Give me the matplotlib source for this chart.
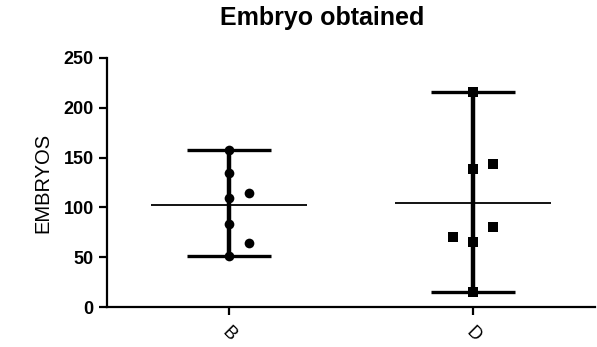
import numpy as np
import matplotlib
matplotlib.use("Agg")
import matplotlib.pyplot as plt

plt.rcParams['font.family'] = ['Liberation Sans', 'DejaVu Sans']

# ===== data =====
GROUPS = ['B', 'D']
B_VALUES = [158, 135, 109, 114, 83, 64, 51]
D_VALUES = [216, 139, 144, 80, 70, 65, 15]
# horizontal scatter of points (GraphPad style column spread)
B_SPREAD = [0, 0, 0, 1, 0, 1, 0]
D_SPREAD = [0, 0, 1, 1, -1, 0, 0]
MARKERS = ['o', 's']
Y_TICKS = [0, 50, 100, 150, 200, 250]

fig = plt.figure(figsize=(5.97, 3.47), dpi=100)
ax = fig.add_axes([107 / 597, 40 / 347, (595 - 107) / 597, (307 - 58) / 347])

step = 0.082
for i, (vals, spread, mk) in enumerate(zip([B_VALUES, D_VALUES], [B_SPREAD, D_SPREAD], MARKERS)):
    vals = np.array(vals, dtype=float)
    mean = vals.mean()
    lo, hi = vals.min(), vals.max()
    # range bar with caps
    ax.errorbar([i], [mean], yerr=[[mean - lo], [hi - mean]], fmt='none',
                ecolor='black', elinewidth=3.2, capsize=30, capthick=2.4, zorder=2)
    # mean line
    ax.hlines(mean, i - 0.32, i + 0.32, colors='black', lw=1.3, zorder=2)
    xs = i + step * np.array(spread)
    ms = 7 if mk == 'o' else 7.5
    ax.scatter(xs, vals, marker=mk, s=ms ** 2, color='black', zorder=3, linewidths=0)

ax.set_xlim(-0.5, 1.5)
ax.set_ylim(0, 250)
ax.set_yticks(Y_TICKS)
ax.set_yticklabels([str(t) for t in Y_TICKS], fontsize=13, fontweight='bold')
ax.set_xticks(range(len(GROUPS)))
ax.set_xticklabels(GROUPS, fontsize=13, rotation=-45, ha='center', va='top')
ax.tick_params(axis='both', length=6, width=1.6, color='black')
ax.tick_params(axis='x', pad=6)

for side in ['top', 'right']:
    ax.spines[side].set_visible(False)
for side in ['left', 'bottom']:
    ax.spines[side].set_linewidth(1.6)

ax.set_ylabel('EMBRYOS', fontsize=14.5, labelpad=8)
fig.text(322 / 597, 1 - 18 / 347, 'Embryo obtained', fontsize=18, fontweight='bold',
         ha='center', va='center')

fig.savefig('out.png', dpi=100)
